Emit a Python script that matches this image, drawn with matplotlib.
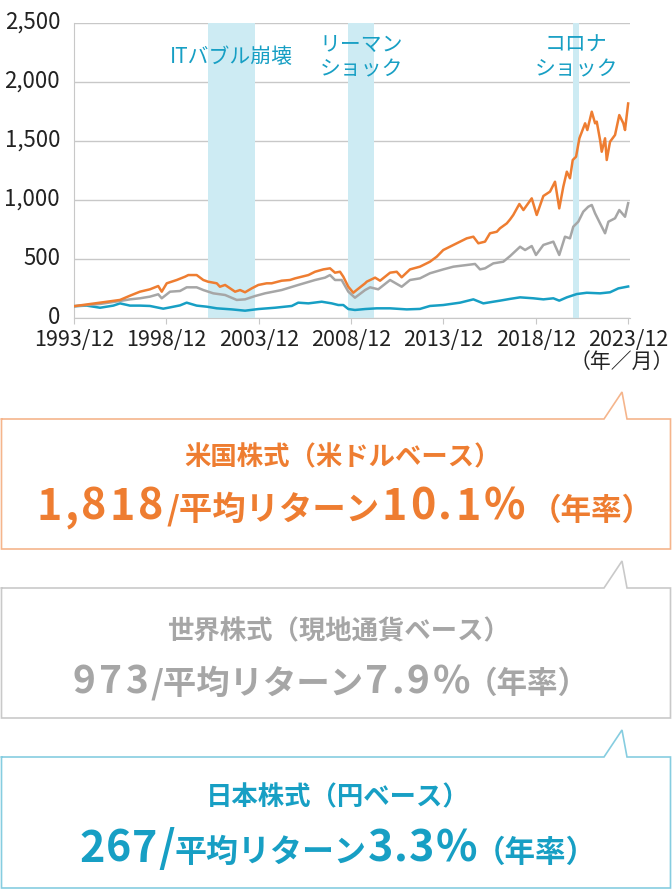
import matplotlib
matplotlib.use('Agg')
import matplotlib.pyplot as plt
from matplotlib.transforms import ScaledTranslation

plt.rcParams['font.family'] = ['Noto Sans CJK JP', 'DejaVu Sans']

# --- data (decimal years) ---
us_dates = [1993.92, 1995.33, 1996.41, 1996.95, 1997.49, 1998.03, 1998.48, 1998.67, 1998.94, 1999.48,
            1999.93, 2000.11, 2000.56, 2000.92, 2001.17, 2001.65, 2001.82, 2002.10, 2002.64, 2002.91,
            2003.18, 2003.54, 2003.90, 2004.35, 2004.62, 2005.16, 2005.61, 2005.89, 2006.61, 2006.97,
            2007.42, 2007.78, 2008.05, 2008.32, 2008.50, 2008.77, 2009.04, 2009.22, 2009.68, 2009.77,
            2010.22, 2010.49, 2011.03, 2011.39, 2011.66, 2012.11, 2012.65, 2013.19, 2013.56, 2013.91,
            2014.46, 2014.82, 2015.18, 2015.54, 2015.81, 2016.17, 2016.44, 2016.81, 2016.98, 2017.35,
            2017.53, 2017.70, 2018.03, 2018.25, 2018.70, 2018.97, 2019.33, 2019.69, 2019.96, 2020.19,
            2020.41, 2020.60, 2020.77, 2020.92, 2021.10, 2021.28, 2021.59, 2021.71, 2021.95, 2022.13,
            2022.22, 2022.40, 2022.49, 2022.67, 2022.76, 2022.94, 2023.21, 2023.44, 2023.66, 2023.75,
            2023.92]
us_values = [100, 130, 153, 189, 223, 243, 271, 223, 294, 322,
             350, 364, 364, 322, 308, 294, 265, 280, 223, 237,
             218, 251, 280, 294, 294, 316, 322, 336, 364, 392,
             412, 421, 384, 392, 350, 265, 214, 237, 294, 308,
             342, 316, 384, 392, 345, 412, 435, 477, 520, 576,
             619, 647, 675, 689, 633, 647, 718, 731, 760, 802,
             836, 873, 966, 915, 1014, 873, 1034, 1071, 1155, 929,
             1113, 1240, 1184, 1339, 1367, 1523, 1650, 1593, 1748, 1650,
             1664, 1508, 1409, 1523, 1339, 1494, 1551, 1720, 1650, 1593,
             1818]

world_dates = [1993.92, 1995.33, 1996.41, 1996.95, 1997.49, 1998.03, 1998.48, 1998.67, 1999.12, 1999.66,
               2000.02, 2000.56, 2000.92, 2001.46, 2002.10, 2002.73, 2003.18, 2003.72, 2004.26, 2005.16,
               2006.06, 2006.97, 2007.51, 2007.78, 2008.05, 2008.41, 2008.77, 2009.13, 2009.68, 2009.95,
               2010.39, 2011.03, 2011.66, 2012.11, 2012.65, 2013.19, 2013.91, 2014.46, 2015.18, 2015.63,
               2015.90, 2016.17, 2016.62, 2017.16, 2017.53, 2018.07, 2018.34, 2018.70, 2018.93, 2019.33,
               2019.87, 2020.19, 2020.50, 2020.77, 2020.95, 2021.22, 2021.49, 2021.76, 2021.95, 2022.13,
               2022.40, 2022.67, 2022.85, 2023.21, 2023.44, 2023.75, 2023.92]
world_values = [100, 119, 144, 158, 167, 181, 201, 167, 223, 229,
                260, 260, 237, 209, 195, 153, 158, 186, 209, 237,
                280, 322, 342, 364, 322, 322, 223, 172, 237, 260,
                243, 322, 265, 322, 336, 379, 412, 435, 449, 458,
                412, 421, 463, 477, 525, 604, 576, 610, 534, 619,
                647, 534, 689, 675, 774, 816, 901, 943, 958, 887,
                802, 718, 816, 845, 915, 858, 973]

japan_dates = [1993.92, 1994.61, 1995.33, 1996.05, 1996.41, 1996.95, 1997.49, 1998.03, 1998.75, 1999.12,
               1999.66, 2000.02, 2000.56, 2001.10, 2001.65, 2002.46, 2003.18, 2003.90, 2004.80, 2005.71,
               2006.06, 2006.61, 2007.33, 2007.87, 2008.23, 2008.50, 2008.77, 2009.13, 2009.68, 2010.31,
               2011.03, 2011.93, 2012.65, 2013.19, 2013.91, 2014.82, 2015.54, 2016.08, 2016.62, 2016.98,
               2017.53, 2018.07, 2018.79, 2019.33, 2019.87, 2020.19, 2020.60, 2021.14, 2021.68, 2022.40,
               2022.94, 2023.39, 2023.92]
japan_values = [100, 105, 87, 105, 124, 105, 105, 102, 79, 90,
                107, 130, 105, 96, 82, 73, 62, 76, 87, 102,
                130, 124, 138, 124, 110, 110, 76, 68, 76, 82,
                82, 73, 77, 102, 110, 130, 158, 124, 138, 147,
                162, 175, 167, 158, 167, 147, 175, 203, 214, 209,
                218, 251, 267]

event_labels = ['ITバブル崩壊', 'リーマン\nショック', 'コロナ\nショック']
event_start = [2001.17, 2008.77, 2020.92]
event_end = [2003.72, 2010.16, 2021.25]
event_label_x = [2002.42, 2009.46, 2021.10]

tick_years = [1993.92, 1998.92, 2003.92, 2008.92, 2013.92, 2018.92, 2023.92]
tick_labels = ['1993/12', '1998/12', '2003/12', '2008/12', '2013/12', '2018/12', '2023/12']
y_ticks = [0, 500, 1000, 1500, 2000, 2500]
y_labels = ['0', '500', '1,000', '1,500', '2,000', '2,500']

ORANGE = '#EE7D31'
GRAY = '#A6A6A6'
BLUE = '#179FC4'

W, H = 672, 891
fig = plt.figure(figsize=(W / 100, H / 100), dpi=100)

# --- line chart ---
ax = fig.add_axes([74 / W, 1 - 318 / H, 556 / W, 295 / H])
ax.set_xlim(1993.92, 2024.02)
ax.set_ylim(0, 2500)
for s, e in zip(event_start, event_end):
    ax.axvspan(s, e, color='#CDEBF3', lw=0, zorder=1)
ax.plot(japan_dates, japan_values, color=BLUE, lw=1.8, zorder=3)
ax.plot(world_dates, world_values, color=GRAY, lw=1.8, zorder=3)
ax.plot(us_dates, us_values, color=ORANGE, lw=1.8, zorder=4)

ax.set_yticks(y_ticks)
ax.set_yticklabels(y_labels)
ax.set_xticks(tick_years)
ax.set_xticklabels(tick_labels)
ax.yaxis.grid(True, color='#C8C8C8', lw=1)
ax.set_axisbelow(True)
for side in ['top', 'right']:
    ax.spines[side].set_visible(False)
for side in ['left', 'bottom']:
    ax.spines[side].set_color('#C8C8C8')
ax.tick_params(axis='y', length=0, pad=10, labelsize=16, labelcolor='#222222')
ax.tick_params(axis='x', length=4, color='#C8C8C8', pad=4, labelsize=15.5, labelcolor='#222222')
# y labels sit a touch above their gridlines
shift_up = ScaledTranslation(0, 3 / 100, fig.dpi_scale_trans)
for lbl in ax.get_yticklabels():
    lbl.set_transform(lbl.get_transform() + shift_up)

for lab, lx in zip(event_labels, event_label_x):
    ax.text(lx, 2210, lab, color=BLUE, fontsize=15, ha='center', va='center', linespacing=1.15, zorder=5)
ax.text(2023.55, -0.15, '（年／月）', transform=ax.get_xaxis_transform(), fontsize=15,
        ha='center', va='center', color='#222222')

# --- callout boxes ---
ov = fig.add_axes([0, 0, 1, 1])
ov.set_xlim(0, W)
ov.set_ylim(H, 0)
ov.axis('off')
renderer = fig.canvas.get_renderer()


def callout(top, bottom, apex, edge):
    xs = [1.5, 604, 622, 627, 670.5, 670.5, 1.5, 1.5]
    ys = [top, top, apex, top, top, bottom, bottom, top]
    ov.fill(xs, ys, color='white', zorder=1)
    ov.plot(xs, ys, color=edge, lw=1.2, zorder=2, solid_joinstyle='miter')


def rich_line(pieces, x, base, color):
    # pieces: (text, fontsize, gap before, letter spacing)
    for txt, size, gap, track in pieces:
        x += gap
        chunks = list(txt) if track else [txt]
        for ch in chunks:
            t = ov.text(x, base, ch, fontsize=size, fontweight='bold', color=color,
                        ha='left', va='baseline', zorder=3)
            x += t.get_window_extent(renderer=renderer).width + track


boxes = [
    (419, 549, 392, '#F5B58C', ORANGE, '米国株式（米ドルベース）', 343, 36,
     [('1,818', 31, 0, 3), ('/平均リターン', 24, 0, 0), ('10.1%', 31, 2, 3), ('（年率）', 22, 3, 0)], 465, 520),
    (588, 718, 561, '#C9C9C9', GRAY, '世界株式（現地通貨ベース）', 338, 73,
     [('973', 28, 0, 3), ('/平均リターン', 24, 0, 0), ('7.9%', 28, 1, 3), ('（年率）', 22, -6, 0)], 639, 693),
    (757, 888, 730, '#86CDE0', BLUE, '日本株式（円ベース）', 338, 79,
     [('267', 31, 0, 1), ('/', 31, 0, 0), ('平均リターン', 23, 0, 0), ('3.3%', 31, 1, 1), ('（年率）', 22, -3, 0)], 805, 862),
]
for top, bottom, apex, edge, col, title, tx, x0, pieces, b1, b2 in boxes:
    callout(top, bottom, apex, edge)
    ov.text(tx, b1, title, fontsize=19, fontweight='bold', color=col, ha='center', va='baseline', zorder=3)
    rich_line(pieces, x0, b2, col)

fig.savefig('out.png', dpi=100)
